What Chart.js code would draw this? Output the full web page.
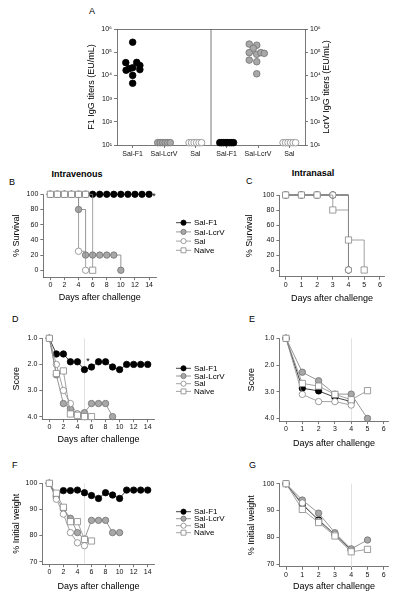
<!DOCTYPE html>
<html lang="en">
<head>
<meta charset="UTF-8">
<title>Sal-F1 / Sal-LcrV challenge</title>
<style>
  body { margin: 0; width: 401px; height: 600px; position: relative; background: #fff; overflow: hidden;
         font-family: Arial, "Liberation Sans", sans-serif; }
  canvas { position: absolute; }
  .lbl { position: absolute; font-size: 9px; line-height: 1; color: #000; }
  .ttl { position: absolute; font-size: 9px; line-height: 1; font-weight: bold; width: 100px; text-align: center; }
</style>
</head>
<body>
<div class="lbl" style="left:89px;top:7px">A</div>
<div class="lbl" style="left:9px;top:178px">B</div>
<div class="lbl" style="left:246px;top:177px">C</div>
<div class="lbl" style="left:12px;top:315px">D</div>
<div class="lbl" style="left:249px;top:315px">E</div>
<div class="lbl" style="left:12px;top:461px">F</div>
<div class="lbl" style="left:249px;top:461px">G</div>
<div class="ttl" style="left:27px;top:170px">Intravenous</div>
<div class="ttl" style="left:263px;top:169px">Intranasal</div>

<script src="https://cdn.jsdelivr.net/npm/chart.js"></script>
<script>
// ---- data ----
const groups = ['Sal-F1', 'Sal-LcrV', 'Sal', 'Naive'];

// A: antibody titers (EU/mL), left half = F1 IgG, right half = LcrV IgG
const titerCats = ['Sal-F1', 'Sal-LcrV', 'Sal', 'Sal-F1', 'Sal-LcrV', 'Sal'];
const titerTicks = [10, 100, 1000, 10000, 100000, 1000000];
const titerTickLabels = ['10¹', '10²', '10³', '10⁴', '10⁵', '10⁶'];
const f1SalF1 = [269000, 35500, 36300, 26900, 16600, 19500, 21400, 17800, 10000, 4570];
const f1SalF1Jit = [0, -0.22, 0.13, 0.23, -0.21, -0.11, 0, 0.23, 0, 0];
const f1SalLcrV = [12.6, 12.6, 12.6, 12.6, 12.6, 12.6];
const f1Sal = [12.6, 12.6, 12.6, 12.6, 12.6, 12.6];
const lcrvSalF1 = [12.6, 12.6, 12.6, 12.6, 12.6, 12.6, 12.6, 12.6];
const lcrvSalLcrV = [224000, 200000, 148000, 95500, 81300, 95500, 89100, 45700, 38900, 11700];
const lcrvSalLcrVJit = [-0.28, -0.04, -0.15, -0.28, -0.04, 0.09, 0.2, -0.28, -0.04, -0.04];
const lcrvSal = [12.6, 12.6, 12.6, 12.6, 12.6, 12.6];
const lodJit6 = [-0.2, -0.12, -0.04, 0.04, 0.12, 0.2];
const lodJit8 = [-0.22, -0.16, -0.1, -0.03, 0.03, 0.1, 0.16, 0.22];

// B/C: survival (%)
const ivDays = [0, 1, 2, 3, 4, 5, 6, 7, 8, 9, 10, 11, 12, 13, 14];
const ivSurvSalF1 = [100, 100, 100, 100, 100, 100, 100, 100, 100, 100, 100, 100, 100, 100, 100];
const ivSurvSalLcrV = [100, 100, 100, 100, 80, 20, 20, 20, 20, 20, 0];
const ivSurvSal = [100, 100, 100, 100, 25, 0];
const ivSurvNaive = [100, 100, 100, 100, 100, 100, 0];
const inDays = [0, 1, 2, 3, 4, 5];
const inSurvSalF1 = [100, 100, 100, 100, 0];
const inSurvSalLcrV = [100, 100, 100, 100, 0];
const inSurvSal = [100, 100, 100, 100, 0];
const inSurvNaive = [100, 100, 100, 80, 40, 0];

// D/E: clinical score
const ivScoreSalF1 = [1.0, 1.6, 1.6, 1.9, 1.9, 2.2, 2.1, 1.9, 1.9, 2.1, 2.2, 2.0, 2.0, 2.0, 2.0];
const ivScoreSalLcrV = [1.0, 2.4, 3.5, 3.7, 3.9, 3.85, 3.5, 3.5, 3.5, 4.0];
const ivScoreSal = [1.0, 2.0, 3.0, 3.5, 3.9, 4.0];
const ivScoreNaive = [1.0, 2.35, 2.25, 3.9, 3.95, 4.0, 4.0];
const inScoreSalF1 = [1.0, 2.87, 2.97, 3.21, 3.37];
const inScoreSalLcrV = [1.0, 2.27, 2.59, 3.09, 3.09, 4.0];
const inScoreSal = [1.0, 3.1, 3.37, 3.37, 3.5];
const inScoreNaive = [1.0, 2.69, 2.79, 3.1, 3.3, 2.96];

// F/G: % initial weight
const ivWeightSalF1 = [100, 95.1, 97.2, 97.2, 97.4, 96.4, 95.3, 94.2, 96.4, 95.5, 94.2, 97.4, 97.4, 97.4, 97.4];
const ivWeightSalLcrV = [100, 94.5, 90.2, 86.6, 81.1, 78.6, 85.8, 85.8, 85.8, 81.1, 81.1];
const ivWeightSal = [100, 93.9, 88.2, 81.1, 77.2, 76.1];
const ivWeightNaive = [100, 96.2, 90.8, 85.3, 85.3, 78.5, 77.9];
const inWeightSalF1 = [100, 92.2, 86.5, 81.0, 75.3];
const inWeightSalLcrV = [100, 93.9, 89.0, 81.7, 75.7, 79.0];
const inWeightSal = [100, 92.8, 86.0, 81.0, 75.0];
const inWeightNaive = [100, 90.4, 85.5, 80.5, 74.6, 75.5];

const ivDayTicks = [0, 2, 4, 6, 8, 10, 12, 14];
const inDayTicks = [0, 1, 2, 3, 4, 5, 6];
const survTicks = [0, 20, 40, 60, 80, 100];
const scoreTicks = [1, 2, 3, 4];
const weightTicks = [70, 80, 90, 100];
const ivMarkDay = 5;
const inMarkDay = 4;

// ---- styling ----
const FONT = 'Arial, "Liberation Sans", sans-serif';
const AXIS = '#555';
const styles = {
  'Sal-F1':   { shape: 'circle', bg: '#000', bd: '#000', line: '#111', order: 3 },
  'Sal-LcrV': { shape: 'circle', bg: '#a8a8a8', bd: '#707070', line: '#7c7c7c', order: 2 },
  'Sal':      { shape: 'circle', bg: '#fff', bd: '#858585', line: '#8c8c8c', order: 1 },
  'Naive':    { shape: 'rect', bg: '#fff', bd: '#858585', line: '#8c8c8c', order: 0 }
};

function drawMarker(ctx, shape, bg, bd, x, y, r) {
  ctx.fillStyle = bg; ctx.strokeStyle = bd; ctx.lineWidth = 0.8;
  ctx.beginPath();
  if (shape === 'rect') { const h = r * 0.95; ctx.rect(x - h, y - h, 2 * h, 2 * h); }
  else ctx.arc(x, y, r, 0, Math.PI * 2);
  ctx.fill(); ctx.stroke();
}

const sideLegend = {
  id: 'sideLegend',
  afterDraw(chart, args, o) {
    if (!o || !o.x) return;
    const ctx = chart.ctx;
    ctx.save();
    ctx.font = o.size + 'px ' + FONT;
    ctx.textBaseline = 'middle';
    chart.data.datasets.forEach((d, i) => {
      const s = styles[d.label];
      if (!s) return;
      const y = o.y + i * o.step;
      ctx.strokeStyle = s.line; ctx.lineWidth = 0.8;
      ctx.beginPath(); ctx.moveTo(o.x, y); ctx.lineTo(o.x + o.len, y); ctx.stroke();
      drawMarker(ctx, s.shape, s.bg, s.bd, o.x + o.len / 2, y, 2.6);
      ctx.fillStyle = '#000';
      ctx.fillText(d.label, o.x + o.len + 3, y + 0.5);
    });
    ctx.restore();
  }
};

const marks = {
  id: 'marks',
  beforeDatasetsDraw(chart, args, o) {
    const ctx = chart.ctx, a = chart.chartArea, xs = chart.scales.x;
    ctx.save();
    if (o.refDay !== undefined && o.refDay !== null) {
      const x = Math.round(xs.getPixelForValue(o.refDay)) + 0.5;
      ctx.strokeStyle = '#e2e2e2'; ctx.lineWidth = 1;
      ctx.beginPath(); ctx.moveTo(x, a.top); ctx.lineTo(x, a.bottom); ctx.stroke();
    }
    if (o.divider) {
      const x = xs.getPixelForValue(o.divider);
      ctx.strokeStyle = AXIS; ctx.lineWidth = 0.8;
      ctx.beginPath(); ctx.moveTo(x, a.top); ctx.lineTo(x, a.bottom); ctx.stroke();
    }
    ctx.restore();
  },
  afterDraw(chart, args, o) {
    const ctx = chart.ctx;
    ctx.save();
    ctx.fillStyle = '#000';
    if (o.star) {
      ctx.font = '9px ' + FONT;
      ctx.textAlign = 'center'; ctx.textBaseline = 'middle';
      ctx.fillText('*', chart.scales.x.getPixelForValue(o.star.x), chart.scales.y.getPixelForValue(o.star.y) + 2);
    }
    if (o.rightTitle) {
      const a = chart.chartArea;
      ctx.font = '9px ' + FONT;
      ctx.translate(o.rightTitleX, (a.top + a.bottom) / 2);
      ctx.rotate(-Math.PI / 2);
      ctx.textAlign = 'center'; ctx.textBaseline = 'middle';
      ctx.fillText(o.rightTitle, 0, 0);
    }
    ctx.restore();
  }
};

function makeCanvas(box) {
  const c = document.createElement('canvas');
  c.width = box.w; c.height = box.h;
  c.style.left = box.x + 'px'; c.style.top = box.y + 'px';
  document.body.appendChild(c);
  return c;
}

function axis(min, max, ticks, fmt, extra) {
  return Object.assign({
    type: 'linear', min: min, max: max,
    afterBuildTicks: s => { s.ticks = ticks.map(v => ({ value: v })); },
    grid: { drawOnChartArea: false, drawTicks: true, tickLength: 3, color: AXIS, lineWidth: 0.8 },
    border: { color: AXIS, width: 0.8 },
    ticks: { font: { family: FONT, size: 7 }, color: '#111', autoSkip: false, maxRotation: 0, padding: 2, callback: fmt }
  }, extra);
}

function series(name, days, vals, stepped) {
  const s = styles[name];
  return {
    label: name,
    data: vals.map((v, i) => ({ x: days[i], y: v })),
    borderColor: s.line, borderWidth: 0.8,
    pointStyle: s.shape, pointRadius: s.shape === 'rect' ? 4.4 : 3.2,
    pointBackgroundColor: s.bg, pointBorderColor: s.bd, pointBorderWidth: 0.8,
    stepped: stepped, tension: 0, order: s.order, clip: false
  };
}

function linePanel(box, area, p) {
  const lh = 9 * 1.2;
  const yTitlePad = p.yTitleX - box.x - lh / 2;
  const xTitlePad = box.y + box.h - p.xTitleY - lh / 2;
  const opts = {
    responsive: false, animation: false,
    layout: { padding: { left: 0, top: area.t - box.y, right: box.x + box.w - area.r, bottom: 0 } },
    plugins: {
      legend: { display: false }, tooltip: { enabled: false },
      sideLegend: p.legend ? { x: p.legend.x - box.x, y: p.legend.y - box.y, step: p.legend.step, len: 15, size: 8 } : {},
      marks: { refDay: p.refDay, star: p.star }
    },
    scales: {
      x: axis(p.xMin, p.xMax, p.xTicks, v => String(v), {
        afterFit: s => { s.height = box.y + box.h - area.b; },
        title: { display: true, text: 'Days after challenge', font: { family: FONT, size: 9 }, color: '#000',
                 padding: { top: 0, bottom: xTitlePad } }
      }),
      y: axis(p.yMin, p.yMax, p.yTicks, p.yFmt, {
        reverse: !!p.reverse,
        afterFit: s => { s.width = area.l - box.x; },
        title: { display: true, text: p.yTitle, font: { family: FONT, size: 9 }, color: '#000',
                 padding: { top: yTitlePad, bottom: 0 } }
      })
    }
  };
  opts.scales.x.ticks.padding = 1;
  return new Chart(makeCanvas(box), {
    type: 'line',
    data: { datasets: p.sets.map((vals, i) => series(groups[i], p.days, vals, p.stepped)) },
    options: opts,
    plugins: [marks, sideLegend]
  });
}

// ---- panel A ----
function median(arr) {
  const s = arr.slice().sort((a, b) => a - b);
  const m = Math.floor(s.length / 2);
  return s.length % 2 ? s[m] : (s[m - 1] + s[m]) / 2;
}
function dots(name, cat, vals, jit, yAxis) {
  const s = styles[name];
  return {
    type: 'scatter', label: '', yAxisID: yAxis,
    data: vals.map((v, i) => ({ x: cat + jit[i], y: v })),
    pointRadius: 3.3, pointBackgroundColor: s.bg, pointBorderColor: s.bd, pointBorderWidth: 0.8,
    showLine: false, clip: false
  };
}
function medLine(cat, vals, yAxis) {
  const m = median(vals);
  return {
    type: 'line', label: '', yAxisID: yAxis,
    data: [{ x: cat - 0.3, y: m }, { x: cat + 0.3, y: m }],
    borderColor: '#666', borderWidth: 1, pointRadius: 0, clip: false, order: 5
  };
}
(function () {
  const box = { x: 60, y: 18, w: 290, h: 146 };
  const area = { l: 117, t: 29, r: 305, b: 145 };
  const lh = 9 * 1.2;
  const logAxis = (pos, width) => ({
    type: 'logarithmic', position: pos, min: 10, max: 1000000,
    afterBuildTicks: s => { s.ticks = titerTicks.map(v => ({ value: v })); },
    afterFit: s => { s.width = width; },
    grid: { drawOnChartArea: false, drawTicks: true, tickLength: 3, color: AXIS, lineWidth: 0.8 },
    border: { color: AXIS, width: 0.8 },
    ticks: { font: { family: FONT, size: 7 }, color: '#111', autoSkip: false, padding: 2,
             callback: v => titerTickLabels[titerTicks.indexOf(v)] }
  });
  const yLeft = logAxis('left', area.l - box.x);
  yLeft.title = { display: true, text: 'F1 IgG titers (EU/mL)', font: { family: FONT, size: 9 }, color: '#000',
                  padding: { top: 91.5 - box.x - lh / 2, bottom: 0 } };
  const nLeft = 3;
  new Chart(makeCanvas(box), {
    type: 'scatter',
    data: {
      datasets: [
        medLine(1, f1SalF1, 'y'),
        medLine(5, lcrvSalLcrV, 'y2'),
        dots('Sal-F1', 1, f1SalF1, f1SalF1Jit, 'y'),
        dots('Sal-LcrV', 2, f1SalLcrV, lodJit6, 'y'),
        dots('Sal', 3, f1Sal, lodJit6, 'y'),
        dots('Sal-F1', 4, lcrvSalF1, lodJit8, 'y2'),
        dots('Sal-LcrV', 5, lcrvSalLcrV, lcrvSalLcrVJit, 'y2'),
        dots('Sal', 6, lcrvSal, lodJit6, 'y2')
      ]
    },
    options: {
      responsive: false, animation: false,
      layout: { padding: { left: 0, top: area.t - box.y, right: 0, bottom: 0 } },
      plugins: {
        legend: { display: false }, tooltip: { enabled: false },
        marks: { divider: nLeft + 0.5, rightTitle: 'LcrV IgG titers (EU/mL)', rightTitleX: 327 - box.x }
      },
      scales: {
        x: axis(0.5, titerCats.length + 0.5, titerCats.map((c, i) => i + 1), v => titerCats[v - 1], {
          afterFit: s => { s.height = box.y + box.h - area.b; }
        }),
        x2: {
          type: 'linear', position: 'top', min: 0.5, max: titerCats.length + 0.5,
          afterFit: s => { s.height = 0; },
          grid: { display: false }, ticks: { display: false },
          border: { color: AXIS, width: 0.8 }
        },
        y: yLeft,
        y2: logAxis('right', box.x + box.w - area.r)
      }
    },
    plugins: [marks]
  });
})();

// ---- panels B - G ----
const setOrder = a => a; // datasets listed in legend order: Sal-F1, Sal-LcrV, Sal, Naive
linePanel({ x: 0, y: 185, w: 235, h: 120 }, { l: 43.3, t: 194.3, r: 156.1, b: 277.1 }, {
  days: ivDays, sets: setOrder([ivSurvSalF1, ivSurvSalLcrV, ivSurvSal, ivSurvNaive]), stepped: true,
  xMin: -1, xMax: 15, xTicks: ivDayTicks, yMin: -9, yMax: 100, yTicks: survTicks, yFmt: v => String(v),
  yTitle: '% Survival', yTitleX: 17, xTitleY: 298,
  legend: { x: 176, y: 222.7, step: 9.2 }, star: { x: 14.7, y: 100 }
});
linePanel({ x: 235, y: 185, w: 166, h: 120 }, { l: 279.4, t: 195, r: 384.6, b: 276.75 }, {
  days: inDays, sets: [inSurvSalF1, inSurvSalLcrV, inSurvSal, inSurvNaive], stepped: true,
  xMin: -0.4, xMax: 6.3, xTicks: inDayTicks, yMin: -9, yMax: 100, yTicks: survTicks, yFmt: v => String(v),
  yTitle: '% Survival', yTitleX: 250, xTitleY: 298.3
});
linePanel({ x: 0, y: 325, w: 235, h: 125 }, { l: 42.3, t: 338.3, r: 154.75, b: 419.2 }, {
  days: ivDays, sets: [ivScoreSalF1, ivScoreSalLcrV, ivScoreSal, ivScoreNaive], stepped: false,
  xMin: -1, xMax: 15, xTicks: ivDayTicks, yMin: 1, yMax: 4.1, reverse: true, yTicks: scoreTicks,
  yFmt: v => v.toFixed(1), yTitle: 'Score', yTitleX: 17, xTitleY: 440,
  legend: { x: 176, y: 368.3, step: 7.7 }, refDay: ivMarkDay, star: { x: 5.5, y: 1.8 }
});
linePanel({ x: 235, y: 325, w: 166, h: 125 }, { l: 279.5, t: 338.3, r: 388.7, b: 421.1 }, {
  days: inDays, sets: [inScoreSalF1, inScoreSalLcrV, inScoreSal, inScoreNaive], stepped: false,
  xMin: -0.4, xMax: 6.3, xTicks: inDayTicks, yMin: 1, yMax: 4.1, reverse: true, yTicks: scoreTicks,
  yFmt: v => v.toFixed(1), yTitle: 'Score', yTitleX: 251.7, xTitleY: 443.3, refDay: inMarkDay
});
linePanel({ x: 0, y: 470, w: 235, h: 128 }, { l: 42.3, t: 483.3, r: 154.75, b: 564.2 }, {
  days: ivDays, sets: [ivWeightSalF1, ivWeightSalLcrV, ivWeightSal, ivWeightNaive], stepped: false,
  xMin: -1, xMax: 15, xTicks: ivDayTicks, yMin: 69, yMax: 100, yTicks: weightTicks, yFmt: v => String(v),
  yTitle: '% Initial weight', yTitleX: 17, xTitleY: 586.7,
  legend: { x: 176, y: 511.7, step: 7 }, refDay: ivMarkDay
});
linePanel({ x: 235, y: 470, w: 166, h: 128 }, { l: 279.5, t: 483.7, r: 388.7, b: 566.8 }, {
  days: inDays, sets: [inWeightSalF1, inWeightSalLcrV, inWeightSal, inWeightNaive], stepped: false,
  xMin: -0.4, xMax: 6.3, xTicks: inDayTicks, yMin: 69, yMax: 100, yTicks: weightTicks, yFmt: v => String(v),
  yTitle: '% Initial weight', yTitleX: 252, xTitleY: 587, refDay: inMarkDay
});
</script>
</body>
</html>
